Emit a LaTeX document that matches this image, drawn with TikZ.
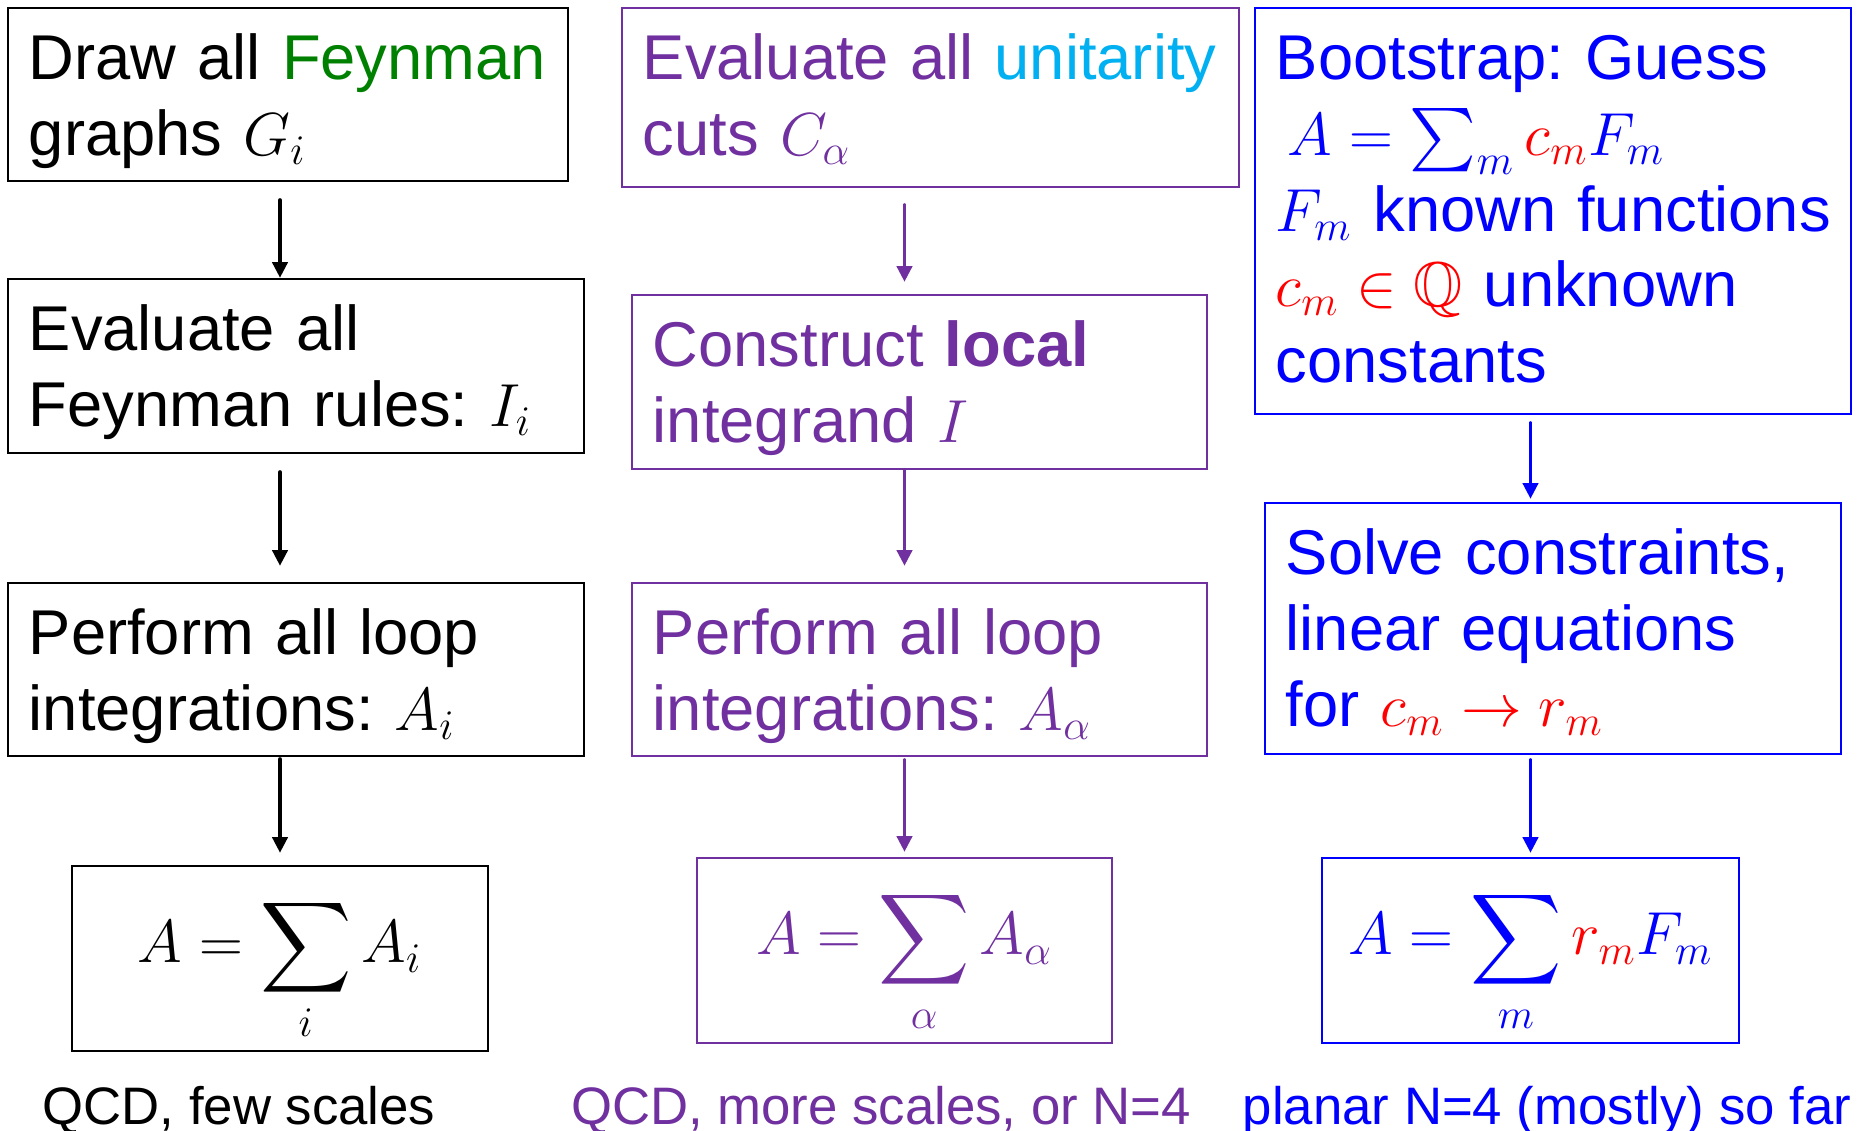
\documentclass[tikz,border=0pt]{standalone}
\usepackage{amssymb}
\usepackage{fontspec}
\setmainfont{Liberation Sans}
\usetikzlibrary{arrows.meta}

\DeclareMathSizes{18}{18}{13}{10}
\definecolor{fgreen}{RGB}{0,128,0}
\definecolor{ppurple}{RGB}{112,48,160}
\definecolor{ucyan}{RGB}{0,176,240}
\definecolor{bblue}{RGB}{0,0,255}
\definecolor{rred}{RGB}{255,0,0}

\begin{document}
\begin{tikzpicture}[x=0.01cm, y=-0.01cm, line cap=round,
    card/.style={draw, line width=0.6pt, inner xsep=0.21cm, inner ysep=0pt,
      align=left, text height=0.72cm,
      font=\fontsize{18}{21.5}\selectfont\frenchspacing},
    sumbox/.style={draw, line width=0.6pt, inner ysep=0pt,
      text height=0.97cm, text depth=0.88cm,
      font=\fontsize{18}{21.5}\selectfont},
    flow/.style={-{Triangle[length=4.5pt,width=4.3pt]}, line width=1.1pt},
    note/.style={anchor=base, font=\fontsize{15}{18}\selectfont}]
  \useasboundingbox (0,0) rectangle (1859,1131);
  % Left column: the textbook route, all in black.
  \node[card, text width=5.18cm, text depth=1.01cm] (graphs) at (288,94.5)
    {Draw all \textcolor{fgreen}{Feynman}\\graphs $G_i$};
  \node[card, text width=5.34cm, text depth=1.02cm] (rules) at (296,366)
    {Evaluate all\\Feynman rules: $I_i$};
  \node[card, text width=5.34cm, text depth=1.01cm] (loops) at (296,669.5)
    {Perform all loop\\integrations: $A_i$};
  \node[sumbox, minimum width=4.16cm] (sumi) at (280,958.5)
    {$\displaystyle A=\sum_i A_i$\hspace{0.4cm}};
  \draw[flow, shorten <=0.18cm] (graphs.south -| sumi) -- (rules.north -| sumi);
  \draw[flow, shorten <=0.18cm, shorten >=0.16cm] (rules.south -| sumi) -- (loops.north -| sumi);
  \draw[flow, shorten <=0.02cm, shorten >=0.12cm] (loops.south -| sumi) -- (sumi.north);
  % Middle column: unitarity cuts, purple.
  \begin{scope}[draw=ppurple, text=ppurple]
    \node[card, text width=5.75cm, text depth=1.07cm] (cuts) at (930.5,97.5)
      {Evaluate all \textcolor{ucyan}{unitarity}\\cuts $C_\alpha$};
    \node[card, text width=5.33cm, text depth=1.02cm] (local) at (919.5,382)
      {Construct \textbf{local}\\integrand $I$};
    \node[card, text width=5.33cm, text depth=1.01cm] (intalpha) at (919.5,669.5)
      {Perform all loop\\integrations: $A_\alpha$};
    \node[sumbox, minimum width=4.15cm] (suma) at (904.5,950.5)
      {$\displaystyle A=\sum_\alpha A_\alpha$\hspace{0.4cm}};
    \draw[flow, ppurple, shorten <=0.17cm, shorten >=0.12cm] (cuts.south -| suma) -- (local.north -| suma);
    \draw[flow, ppurple, shorten >=0.16cm] (local.south -| suma) -- (intalpha.north -| suma);
    \draw[flow, ppurple, shorten <=0.03cm, shorten >=0.05cm] (intalpha.south -| suma) -- (suma.north);
  \end{scope}
  % Right column: the bootstrap, blue with red unknowns.
  \begin{scope}[draw=bblue, text=bblue]
    \node[card, text width=5.54cm, text depth=3.34cm] (guess) at (1553,211)
      {Bootstrap: Guess\\
       \hspace*{0.12cm}$A=\sum_m \textcolor{rred}{c_m}F_m$\\
       \mbox{$F_m$ known functions}\\
       \textcolor{rred}{$c_m\in\mathbb{Q}$} unknown\\
       constants};
    \node[card, text width=5.34cm, text depth=1.79cm] (solve) at (1553,628.5)
      {Solve constraints,\\linear equations\\for \textcolor{rred}{$c_m\to r_m$}};
    \node[sumbox, minimum width=4.17cm] (summ) at (1530.5,950.5)
      {$\displaystyle A=\sum_m \textcolor{rred}{r_m}F_m$\hspace{0.4cm}};
    \draw[flow, bblue, shorten <=0.08cm, shorten >=0.03cm] (guess.south -| summ) -- (solve.north -| summ);
    \draw[flow, bblue, shorten <=0.05cm, shorten >=0.04cm] (solve.south -| summ) -- (summ.north);
  \end{scope}
  % Where each route is used.
  \node[note] (qcdfew) at (239,1125) {QCD, few scales};
  \node[note, text=ppurple] (qcdmore) at (881,1125) {QCD, more scales, or N=4};
  \node[note, text=bblue] (planar) at (1547,1125) {planar N=4 (mostly) so far};
\end{tikzpicture}
\end{document}
